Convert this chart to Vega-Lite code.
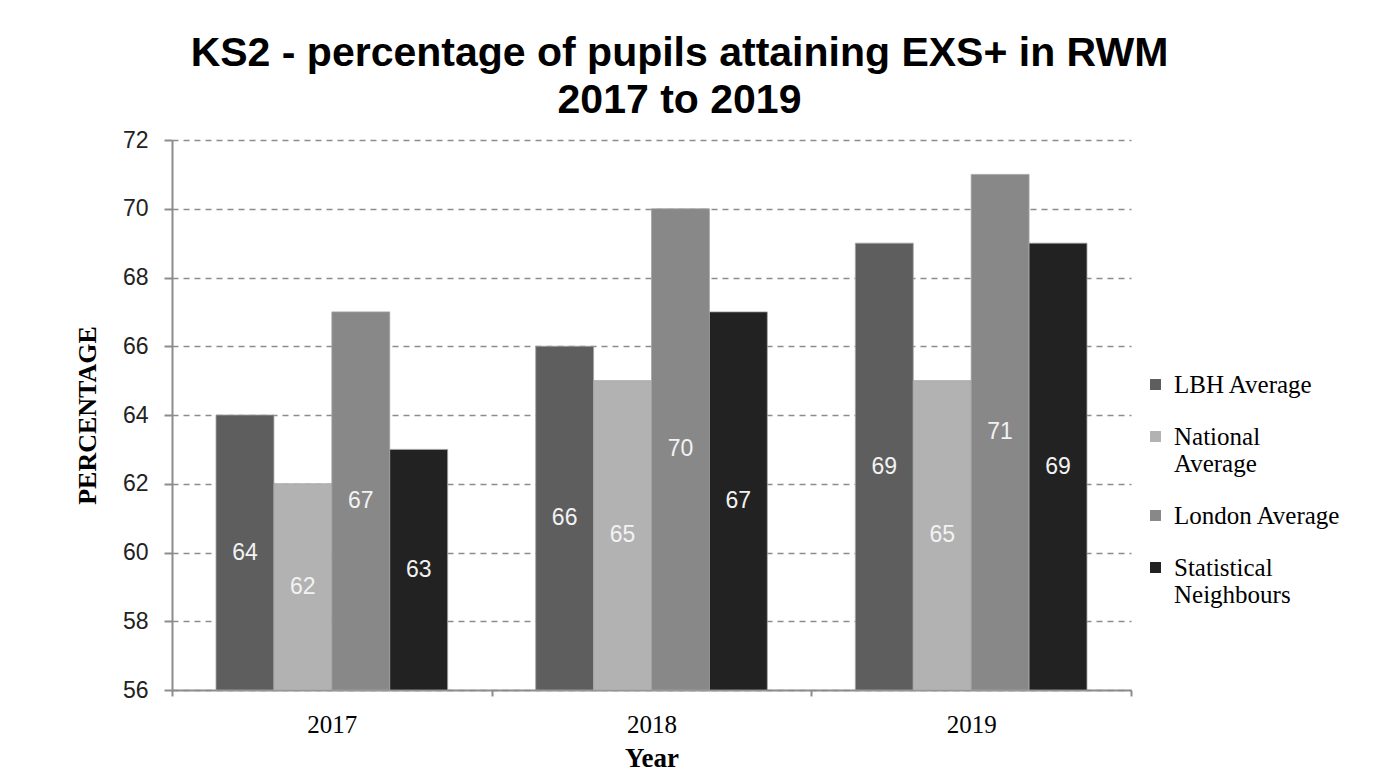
{
  "$schema": "https://vega.github.io/schema/vega-lite/v6.json",
  "autosize": "none",
  "width": 959,
  "height": 550,
  "padding": {"left": 172, "top": 140, "right": 244, "bottom": 84},
  "background": "white",
  "title": {
    "text": ["KS2 - percentage of pupils attaining EXS+ in RWM", "2017 to 2019"],
    "font": "Liberation Sans",
    "fontSize": 41,
    "fontWeight": "bold",
    "color": "#000000",
    "anchor": "middle",
    "dx": 28,
    "offset": 7,
    "lineHeight": 47
  },
  "data": {
    "values": [
      {"year": "2017", "series": "LBH Average", "value": 64},
      {"year": "2017", "series": "National Average", "value": 62},
      {"year": "2017", "series": "London Average", "value": 67},
      {"year": "2017", "series": "Statistical Neighbours", "value": 63},
      {"year": "2018", "series": "LBH Average", "value": 66},
      {"year": "2018", "series": "National Average", "value": 65},
      {"year": "2018", "series": "London Average", "value": 70},
      {"year": "2018", "series": "Statistical Neighbours", "value": 67},
      {"year": "2019", "series": "LBH Average", "value": 69},
      {"year": "2019", "series": "National Average", "value": 65},
      {"year": "2019", "series": "London Average", "value": 71},
      {"year": "2019", "series": "Statistical Neighbours", "value": 69}
    ]
  },
  "encoding": {
    "x": {
      "field": "year",
      "type": "nominal",
      "scale": {"paddingInner": 0, "paddingOuter": 0},
      "axis": {
        "title": "Year",
        "titleFont": "Liberation Serif",
        "titleFontSize": 27,
        "titleFontWeight": "bold",
        "titleColor": "#000000",
        "titlePadding": 8,
        "labelFont": "Liberation Serif",
        "labelFontSize": 25,
        "labelColor": "#000000",
        "labelAngle": 0,
        "labelPadding": 16,
        "domainColor": "#8c8c8c",
        "domainWidth": 2,
        "tickColor": "#8c8c8c",
        "tickWidth": 2,
        "tickSize": 6,
        "tickBand": "extent",
        "bandPosition": 0,
        "grid": false
      }
    },
    "xOffset": {
      "field": "series",
      "type": "nominal",
      "sort": ["LBH Average", "National Average", "London Average", "Statistical Neighbours"],
      "scale": {"paddingInner": 0, "paddingOuter": 0.76}
    }
  },
  "layer": [
    {
      "mark": {"type": "bar", "stroke": "#a5a5a5", "strokeWidth": 0.8},
      "encoding": {
        "y": {
          "field": "value",
          "type": "quantitative",
          "scale": {"domain": [56, 72], "nice": false, "zero": false},
          "axis": {
            "title": "PERCENTAGE",
            "titleFont": "Liberation Serif",
            "titleFontSize": 26,
            "titleFontWeight": "bold",
            "titleColor": "#000000",
            "titlePadding": 22,
            "values": [56, 58, 60, 62, 64, 66, 68, 70, 72],
            "labelFont": "Liberation Sans",
            "labelFontSize": 23,
            "labelColor": "#222222",
            "labelPadding": 16,
            "domainColor": "#8c8c8c",
            "domainWidth": 2,
            "tickColor": "#8c8c8c",
            "tickWidth": 2,
            "tickSize": 8,
            "grid": true,
            "gridColor": "#8c8c8c",
            "gridWidth": 1.5,
            "gridDash": [6, 5]
          }
        },
        "y2": {"datum": 56},
        "color": {
          "field": "series",
          "type": "nominal",
          "sort": ["LBH Average", "National Average", "London Average", "Statistical Neighbours"],
          "scale": {
            "domain": ["LBH Average", "National Average", "London Average", "Statistical Neighbours"],
            "range": ["#5e5e5e", "#b2b2b2", "#888888", "#222222"]
          },
          "legend": {
            "title": null,
            "orient": "none",
            "legendX": 971,
            "legendY": 232,
            "symbolType": "square",
            "symbolSize": 120,
            "symbolStrokeWidth": 0,
            "labelFont": "Liberation Serif",
            "labelFontSize": 25,
            "labelColor": "#000000",
            "labelOffset": 6,
            "labelLimit": 300,
            "rowPadding": 26,
            "labelExpr": "datum.label == 'National Average' ? ['National', 'Average'] : datum.label == 'Statistical Neighbours' ? ['Statistical', 'Neighbours'] : datum.label"
          }
        }
      }
    },
    {
      "transform": [{"calculate": "(datum.value + 56) / 2", "as": "mid"}],
      "mark": {"type": "text", "font": "Liberation Sans", "fontSize": 23, "color": "#f2f2f2", "baseline": "middle"},
      "encoding": {
        "y": {"field": "mid", "type": "quantitative"},
        "text": {"field": "value", "type": "quantitative"}
      }
    }
  ],
  "config": {
    "view": {"stroke": null}
  }
}
